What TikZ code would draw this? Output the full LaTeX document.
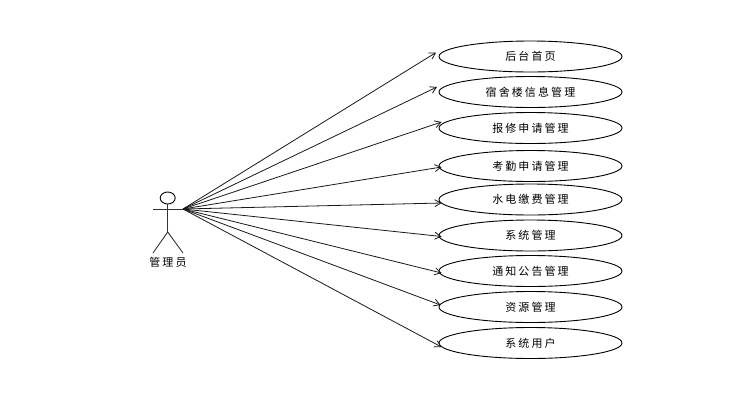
\documentclass[tikz,border=0pt]{standalone}
\usepackage{fontspec}
\newfontfamily\cjk[LetterSpace=19]{Noto Sans CJK SC}
\usetikzlibrary{arrows.meta,shapes.geometric}
\begin{document}
\begin{tikzpicture}[
    x=1pt, y=-1pt,
    >={Straight Barb[length=6pt,width=7pt]},
    font=\cjk\fontsize{11pt}{12pt}\selectfont,
    % Core styles
    use_case/.style={draw=black, line width=0.9pt, ellipse, minimum width=183pt, minimum height=31pt, inner sep=0pt},
    actor_head/.style={draw=black, line width=0.9pt, ellipse, minimum width=15pt, minimum height=12pt, inner sep=0pt},
    actor_line/.style={draw=black!80, line width=0.9pt},
    flow/.style={->, line width=0.8pt, draw=black!90}
  ]

  \useasboundingbox (0, 0) rectangle (734, 400);

  % ---------------------------------------------------------
  % ACTOR
  % ---------------------------------------------------------
  \node[actor_head] (head) at (167.7, 198) {};
  \coordinate (hub) at (183, 209);
  \coordinate (hand) at (153, 209);
  \coordinate (hip) at (167.7, 232);
  \coordinate (footl) at (153, 253);
  \coordinate (footr) at (183, 253);
  \node (admin) at (168, 262) {管理员};

  \draw[actor_line] (head.south) -- (hip);
  \draw[actor_line] (hand) -- (hub);
  \draw[actor_line] (footl) -- (hip) -- (footr);

  % ---------------------------------------------------------
  % USE CASES
  % ---------------------------------------------------------
  \node[use_case] (home) at (530.5, 56.5) {后台首页};
  \node[use_case] (dorm) at (530.5, 92) {宿舍楼信息管理};
  \node[use_case] (repair) at (530.5, 128) {报修申请管理};
  \node[use_case] (attend) at (530.5, 166) {考勤申请管理};
  \node[use_case] (bills) at (530.5, 199.5) {水电缴费管理};
  \node[use_case] (sys) at (530.5, 235.5) {系统管理};
  \node[use_case] (notice) at (530.5, 271) {通知公告管理};
  \node[use_case] (res) at (530.5, 307) {资源管理};
  \node[use_case] (users) at (530.5, 343) {系统用户};

  % Arrows stop a little off each ellipse's west point
  \draw[flow] (hub) -- ([shift={(-2.5, -4)}]home.west);
  \draw[flow] (hub) -- ([shift={(-1.5, -5)}]dorm.west);
  \draw[flow] (hub) -- ([shift={(3, -6)}]repair.west);
  \draw[flow] (hub) -- ([shift={(3, 1)}]attend.west);
  \draw[flow] (hub) -- ([shift={(3, 3.5)}]bills.west);
  \draw[flow] (hub) -- ([shift={(3, 1)}]sys.west);
  \draw[flow] (hub) -- ([shift={(3, 2)}]notice.west);
  \draw[flow] (hub) -- ([shift={(2, -2)}]res.west);
  \draw[flow] (hub) -- ([shift={(3, 4)}]users.west);

\end{tikzpicture}
\end{document}
